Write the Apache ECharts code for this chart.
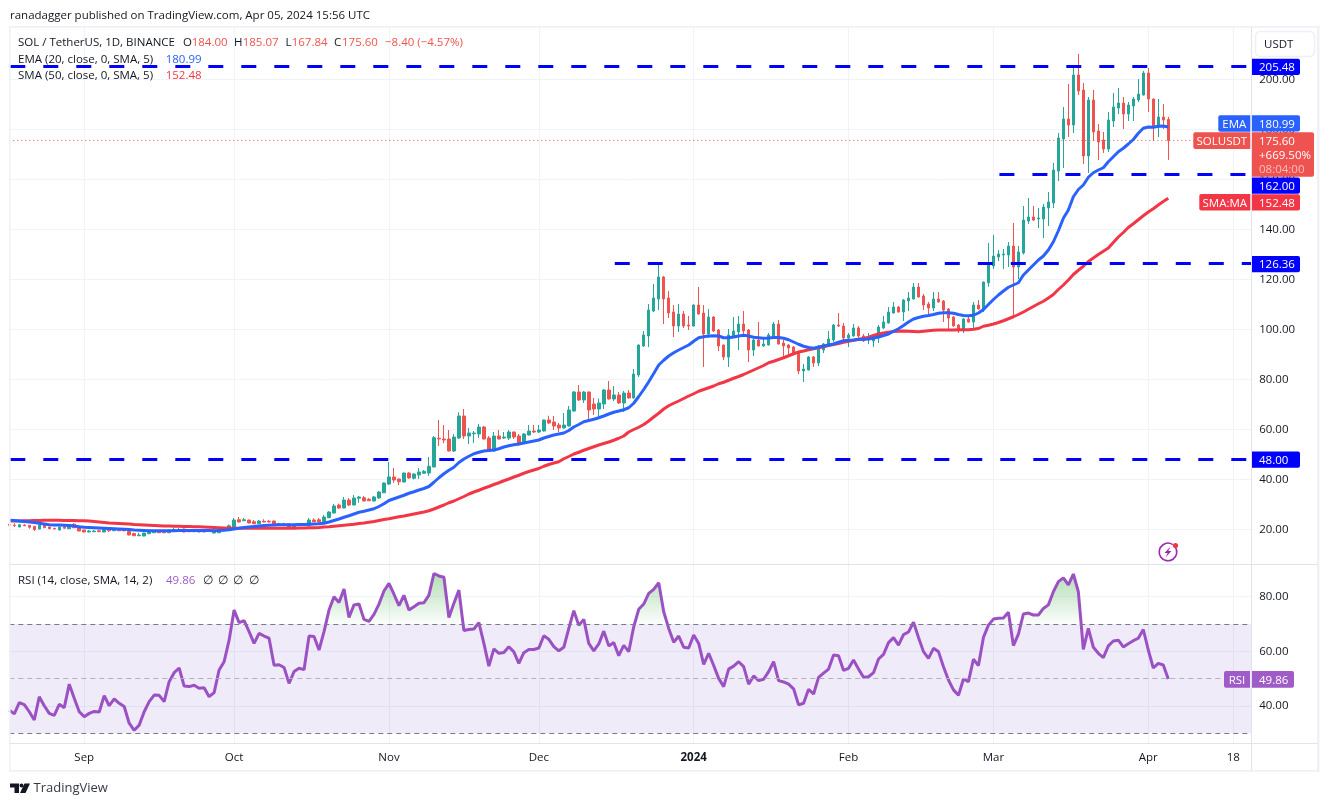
<!DOCTYPE html>
<html><head><meta charset="utf-8">
<style>html,body{margin:0;padding:0;background:#fff}#c{width:1329px;height:806px}</style>
<script src="https://cdn.jsdelivr.net/npm/echarts@6/dist/echarts.min.js"></script>
</head><body><div id="c"></div>
<script>
const FONT = '"Open Sans", "Noto Sans", sans-serif';
// first entry = 2023-08-17 (half hidden at the left edge), last = 2024-04-05
const opens = [22.1,
21.7,21.0,21.8,21.7,21.3,20.2,22.1,21,20.5,19.8,
21,20.3,22.1,20.9,19.8,19,19.1,19.5,19,20.5,
19.5,19.9,19.9,19.2,18.4,17.5,17.4,18.3,18.7,19.2,
19.2,18.7,19.5,19.7,20.2,19.6,19.1,19.5,19,19.3,
18.6,18.7,20,19.9,21,23.9,23.5,23.8,23.1,22.3,
23.3,23.3,23.4,21.7,22.2,22.2,21.1,21.7,22.1,21.5,
23.8,23.9,23,24.7,26.6,29.8,28.6,31.8,29.8,32.5,
32.7,32.1,31.4,32.6,34.7,38.2,41,40.2,39,42.6,
40.5,41.8,42.5,42.6,45,56.5,56.2,56.2,51.4,56.6,
65.4,57.4,58.3,58.2,61,56.6,51.4,57.4,56.6,56.6,
59,57.4,54.6,57.8,59.4,59,59.4,63.8,63,61.8,
60.6,61.4,67.4,75,71.8,75,70.2,68.2,70.2,75.8,
72.2,73.8,70.6,74.6,72.6,81.8,93.4,97.4,107.4,112.2,
121,112.6,107,101.4,106.2,101.8,101.4,109.8,106.6,98.2,
105,99.8,93.8,89,97.4,99,102.2,99.8,91.8,95.8,
93.4,93.8,97.4,102.2,94.6,93.8,93,90.6,83.4,83.8,
89,86.6,91.8,93.8,95.8,101.8,101.4,96.6,97.4,100.6,
97.4,95.8,95.4,96.6,100.6,102.6,106.6,109,107,111.4,
112.2,117,113.4,110.2,108.6,112.2,111.4,108.2,105,101.8,
99.4,104.2,103,109.8,107.8,118.7,125.4,129,129.8,129.8,
133.4,125,130.6,143.4,145,144.2,144.2,148.6,150.6,163.4,
176.2,184.2,181.8,201.8,195.8,169.4,191.8,179.4,175.8,172.2,
183.4,188.6,190.6,186.2,189.4,191.8,193.8,202.6,192.2,181,
185,184];
const closes = [21.7,
21.6,21.9,21.5,20.9,20,21.8,20.7,20.3,20.2,21,
20.5,21.8,20.7,19.4,19,19.4,19.4,19.1,20.5,19.5,
20,19.5,19.5,17.8,17.5,17.8,18.6,19.4,19.2,18.7,
18.7,19.8,20,19.9,19,19.1,19.5,19,19.5,19.5,
19.8,19.9,20.7,21.5,23.8,23,23.9,22.6,22.3,23.4,
23,23,21.8,22.3,21.7,20.9,21.8,22.2,21.7,23.8,
23.1,23,25,27,29.4,28.6,31.8,29.8,32.6,33,
31.4,31.5,33,35,38.6,41,39.8,39.1,42.6,40.6,
42.2,43,43.3,45.3,56.7,56.2,55.8,51.4,57,65.4,
57.4,58.6,58.6,61,56.2,51.4,57.4,56.2,57,59,
57,54.2,58.2,59.4,59,59.8,63.8,62.6,61.4,60.6,
61.8,67.8,75,71.8,75,67.8,68.2,70.6,75.8,72.2,
73.8,70.6,74.6,72.6,82.2,93.8,97.8,107.8,112.6,121,
112.2,106.6,101.4,106.2,101.4,101.4,109.8,106.2,98.2,105,
99.4,93.4,89,97.8,99.4,102.2,99.4,91.8,95.8,93.4,
94.2,97.8,102.2,94.2,93.4,92.6,90.6,83.4,84.2,89,
86.6,92.2,94.2,96.2,101.8,101.4,96.6,97.8,100.6,97.4,
95.4,96.6,97,101,103,107,109,107,111.8,112.6,
117,113,109.8,108.6,112.2,111,107.8,104.6,101.4,99.4,
104.2,103,109.8,108.2,119,126.2,129.4,130.2,130.2,133.4,
125,131,143.8,145,143.8,144.6,149,151,163.8,176.6,
184.2,181.8,201.8,195.4,169.4,191.8,179,175,172.2,183.8,
189,190.6,186.2,189.8,192.2,194.2,202.6,192.2,181,185,
183.8,175.6];
const highs = [22.3,
22.5,22.1,22.2,21.8,21.4,22,22.3,21.1,20.6,21.1,
21.4,22.2,22.5,21,19.9,19.8,19.7,20,20.9,20.9,
20.3,20.1,20.1,19.4,18.7,18.7,18.7,19.6,19.6,19.6,
19.3,20,20.6,20.7,20.3,19.8,19.7,19.8,19.7,19.7,
19.9,20.1,21,22,24.6,25,24.6,23.9,23.8,23.8,
24.1,23.8,23.6,22.7,22.7,22.3,22,22.4,22.5,24.6,
24.4,24.6,25.8,27.3,30.2,30.3,33,32.6,33.8,33.4,
33.4,32.6,33.4,35.4,38.8,47,44.6,40.4,42.8,42.9,
42.5,44.6,43.8,49,57.4,63.8,61.8,59.8,58.2,66.9,
68.2,60.6,59.4,62.2,61.4,57.4,59,59.8,59,59.8,
59.2,58.2,58.6,61.8,61.8,61.8,64,65.5,65.4,62.6,
66.6,69.4,75.4,77.8,75.4,75.2,72.6,72.4,76.2,79.4,
77.4,75,75.4,75.8,84.2,94,99.4,110.2,118.2,126.5,
121.4,115.4,109.8,110.2,107.4,105.4,110,117,109.8,108.2,
105.4,100.2,94,100.2,105,105.4,107.4,100.2,97.4,103,
97,98.6,103,103.8,95.8,94.2,93.4,91.4,86.2,89.4,
89.4,93.8,94.6,99.4,102.2,106.6,102.6,98.6,102.2,101.4,
98.2,98.6,97.8,101.8,105.4,109,111,109.4,112.2,115,
118.6,118.6,114.2,111,115,115,111.8,108.6,105.4,102.2,
104.6,105,111,111.8,119.2,134.6,137.8,131.8,132.2,135,
142.6,133.4,149.4,152.6,149.4,148.6,150.2,155,166.6,178.6,
189,198.2,205.4,210.2,198.6,193,195.8,182.2,179,187,
194.6,196.6,193,191,193,200.2,203.4,204.6,192.4,192.2,
190.2,185.07];
const lows = [21.6,
21,20.9,21.4,20.3,19.4,20.1,20.6,20.2,20.1,19.7,
20.4,20.2,20.6,19.3,18.9,18.9,19,19,18.9,19,
19.4,19.4,19.3,17.7,17.4,17.4,17.3,18.2,18.6,18.6,
18.6,18.6,19.4,19.6,18.9,19,19,18.9,18.9,19.2,
18.5,18.6,19.9,19.8,20.9,22.9,23.4,22.5,22.2,22.2,
22.9,22.9,21.7,21.6,21.6,20.8,21,21.6,21.6,21.4,
23,22.9,22.9,24.6,26.5,28.2,28.5,29.4,29.7,30.7,
31.3,31.4,31.3,32.3,34.6,37.8,38.7,37.8,38.9,40.3,
40,40.2,42.4,41.4,44.9,53.4,54.5,51.3,51,56.2,
56.2,54.2,54.6,56.6,56,51,51.3,56,56.2,55.8,
56.2,53.4,54.2,57.6,58.6,58.6,59.2,62.2,59.8,59,
60.4,61.2,67.2,71.4,70.6,64.2,65.8,64.2,68.2,72,
71.4,70.2,67,72.4,72.4,81,93,93,107,107.8,
102.2,104.6,97,99,100.6,99.8,101.2,106,85,96.6,
99,91.4,87.8,85,97.2,91.8,97.4,87,89.4,93.2,
93,93.6,97.2,94,88.2,89.4,90.4,82.2,79,83.6,
85,85.4,90.6,93,95,101,95.8,93,97.2,96.6,
95,94.2,93,94.6,100.2,102.4,106.4,106.8,103.4,107.4,
112,112.8,107.8,105,107.4,110.8,103,100.2,101.2,98.6,
98.6,102.8,100.2,108,107,117.1,124.2,127.4,124.2,125,
105.4,120.2,130,142.2,143.4,140.6,136.6,141.4,148.6,159.4,
164.6,177,178.6,193.8,166.2,162.6,175.4,167.8,170.6,171,
181,186.2,180.2,183.4,183.4,191,193.6,187,175.4,177,
180.2,167.84];
const ema20 = [23.7,
23.6,23.4,23.2,23.0,22.8,22.5,22.2,21.9,21.8,21.8,
21.7,21.6,21.4,21.1,20.9,20.8,20.7,20.6,20.5,20.4,
20.3,20.2,20.1,20,19.8,19.7,19.6,19.5,19.5,19.5,
19.5,19.5,19.5,19.6,19.6,19.6,19.6,19.6,19.6,19.6,
19.5,19.6,19.7,19.9,20.2,20.5,20.8,21,21.2,21.4,
21.6,21.7,21.8,21.9,21.9,21.9,21.9,22,22,22.1,
22.2,22.3,22.5,23,23.6,24.2,24.9,25.5,26.2,26.9,
27.3,27.8,28.3,29.2,30.3,31.6,32.3,33,33.7,34.5,
35.1,35.8,36.4,37.2,38.9,40.7,42.3,43.7,44.9,46.8,
48.2,49.3,50.3,50.9,51.4,51.6,51.8,52.3,53,53.5,
53.9,54.2,54.6,55,55.4,55.8,56.6,57.2,57.8,58.2,
58.6,59.6,61,62,63.1,63.6,64.1,64.7,65.4,66.2,
66.9,67.4,67.9,68.7,70.5,73.2,76,79.1,82.4,85.8,
87.7,89.4,90.7,91.8,92.8,93.8,95.3,96.7,97.1,97.4,
97.5,97.4,96.7,96.7,97,97.4,97.7,97.4,96.9,96.7,
96.5,96.6,96.8,96.8,96.5,95.9,95,94.1,93.3,92.8,
92.5,93,93.4,93.8,94.2,94.9,95.5,95.7,95.8,96,
96.1,96.2,96.6,97,97.6,98.2,99.3,100.3,101.6,103,
104.2,104.8,105.3,105.6,106,106.5,106.7,106.7,106.5,106,
105.6,105.5,105.7,106.6,108,110,112,113.8,115.4,116.9,
117.8,118.7,121.8,123.8,125.8,127.8,129.4,131.8,135.1,139.5,
144.5,147.8,153.1,156,157.8,160.9,162.7,163.8,164.7,167.1,
169.1,171.1,172.5,174.2,176,178.5,180.5,181,180.9,181.3,
181.4,180.99];
const sma50 = [23.4,
23.4,23.4,23.5,23.5,23.6,23.6,23.7,23.7,23.7,23.7,
23.6,23.6,23.6,23.5,23.5,23.4,23.2,23,22.8,22.6,
22.5,22.4,22.3,22.2,22,21.9,21.8,21.7,21.6,21.5,
21.4,21.4,21.3,21.3,21.2,21.2,21.1,21.1,21,20.9,
20.8,20.7,20.6,20.5,20.5,20.5,20.5,20.5,20.5,20.5,
20.5,20.5,20.5,20.5,20.5,20.5,20.5,20.6,20.6,20.7,
20.7,20.8,21,21.1,21.3,21.5,21.7,21.9,22.1,22.4,
22.6,22.9,23.2,23.6,24,24.3,24.7,25.1,25.4,25.8,
26.2,26.6,27,27.5,28.2,29,29.8,30.7,31.4,32.3,
33.2,34.2,35,35.7,36.5,37.2,38,38.7,39.5,40.2,
41,41.7,42.5,43.2,43.8,44.4,45.3,46,46.6,47.1,
48.3,49.2,50.2,50.9,51.7,52.4,53.1,53.8,54.4,55,
55.7,56.5,57.4,59,60,60.9,62,63.4,65,66.5,
68.2,69.5,70.5,71.4,72.4,73.4,74.3,75.3,76,76.7,
77.4,78.3,78.9,79.7,80.5,81.2,82,82.9,83.8,84.7,
85.6,86.7,87.3,88,88.7,89.5,90.3,91,91.4,91.9,
92.3,92.7,93.1,93.6,94,94.4,94.9,95.3,95.7,96.1,
96.4,96.9,97.6,98.2,98.6,98.9,99.2,99.3,99.4,99.3,
99.2,99.1,99.3,99.5,99.7,99.8,99.8,99.8,99.8,99.9,
99.9,99.9,100.1,100.4,101.3,101.7,102.2,102.8,103.5,104.3,
105.1,106,107,108.1,109.2,110.3,111.3,112.6,114,116,
117.8,119.8,122,123.7,125.3,127.2,128.6,130,131.3,132.6,
134.8,137,138.8,140.8,142.3,143.9,145.5,147,148.3,149.8,
151.2,152.48];
const rsi14 = [38.5,
37.1,41.2,40.5,37.9,34.9,43.4,40.1,37.3,36.6,40.6,
39.4,48,42.8,37.9,36.1,37.3,38,37.8,43.8,40.1,
42.6,41,39.8,33.7,31.1,33,37.9,41.6,44,43.9,
41.6,48.9,52.2,53.9,47.3,47.1,47.6,46.5,46.7,43.4,
44.9,53.2,56.2,64.1,75.1,70.5,71.2,67.2,62.9,66.6,
65.6,64.8,54.9,55.1,54.1,48.3,52.6,53.8,53.3,65.6,
65.4,60.5,67.2,75.1,80,77.9,82.8,72.4,77,77.3,
71.7,71,73.5,77.3,82.1,84.9,80.9,76.7,80.5,75.1,
76.3,77.6,77.8,80.6,88.5,87.6,87.1,72.4,77.6,82.4,
67.6,68,68.2,70.5,62.9,54.6,60.9,59.3,59.6,61.7,
59.8,55.6,59.5,60.7,60.7,61.2,65.7,64.4,61.7,60.2,
61.5,68.4,74.9,69.5,71.7,62.9,60.2,62.7,67.4,62,
63.2,58.4,62.2,59.9,69,75.4,77.3,81.2,82.7,85.1,
74.5,68.4,63.3,65.6,61.5,61.2,66,62.9,55.2,59.3,
54.8,50.1,47.1,53.5,54.6,56.2,54.4,48,51,49.3,
49.8,52.6,56.2,49.3,48.8,48,46.3,40.4,41,46.1,
44.4,50.5,52,53.5,58.7,58.4,53,53.8,56.8,53.5,
50.5,50.7,52.2,57.2,58.9,63.2,65,62.3,66.1,67.1,
70.7,65.1,59.9,57.4,61.1,59.9,54.4,49.5,45.9,43.9,
49.9,48.9,57.1,54.8,65.1,69.6,71.8,72.1,72.2,74.3,
62.1,66.3,73.7,74,73.3,73.3,75.7,77,81.8,85.5,
86.9,84.3,88.3,81.8,60.7,68.4,61.5,59.3,57.7,62,
63.8,64.1,61.6,62.8,63.9,64.8,68,60.5,53.9,55.6,
55,49.86];
const priceTicks = [20,40,60,80,100,120,140,160,180,200];
const rsiTicks = [40,60,80];
const timeTickDates = ['2023-09-01','2023-10-01','2023-11-01','2023-12-01','2024-01-01','2024-02-01','2024-03-01','2024-04-01','2024-04-18'];
const timeTickLabels = ['Sep','Oct','Nov','Dec','2024','Feb','Mar','Apr','18'];
const levelValues = [205.48,162.00,126.36,48.00];
const levelStarts = ['2023-08-17','2024-03-02','2023-12-16','2023-08-17'];

const dates = [];
for (let d = Date.UTC(2023,7,17); d <= Date.UTC(2024,3,22); d += 864e5) dates.push(new Date(d).toISOString().slice(0,10));
const last = dates[dates.length-1];
const isTick = (i, v) => timeTickDates.includes(v);
const GRID = '#f0f3fa', TXT = '#131722', FS = 11.5;
const candles = opens.map((o,i)=>[o,closes[i],lows[i],highs[i]]);

const xBase = {type:'category',data:dates,boundaryGap:false,axisLine:{show:false},axisTick:{show:false},
  splitLine:{show:true,interval:isTick,lineStyle:{color:GRID,width:1}},axisLabel:{show:false}};
const option = {
  animation:false, backgroundColor:'#fff',
  grid:[{left:9.3,right:75.8,top:27,height:537},{left:9.3,right:75.8,top:565,height:178}],
  xAxis:[
    Object.assign({},xBase,{gridIndex:0}),
    Object.assign({},xBase,{gridIndex:1,axisLabel:{show:true,interval:isTick,margin:9,fontFamily:FONT,fontSize:FS,color:TXT,
      formatter:v=>{const t=timeTickLabels[timeTickDates.indexOf(v)]; return t==='2024'?'{b|'+t+'}':t;},
      rich:{b:{fontWeight:'bold',fontFamily:FONT,fontSize:FS,color:TXT}}}})
  ],
  yAxis:[
    {gridIndex:0,type:'value',position:'right',min:6.2,max:221,axisLine:{show:false},
      axisTick:{show:false,customValues:priceTicks},splitLine:{show:true,lineStyle:{color:GRID,width:1}},
      axisLabel:{customValues:priceTicks,margin:6,padding:[2,0,0,0],fontFamily:FONT,fontSize:FS,color:TXT,formatter:v=>v.toFixed(2)}},
    {gridIndex:1,type:'value',position:'right',min:26.46,max:91.6,axisLine:{show:false},
      axisTick:{show:false,customValues:rsiTicks},splitLine:{show:true,lineStyle:{color:GRID,width:1}},
      axisLabel:{customValues:rsiTicks,margin:6,padding:[2,0,0,0],fontFamily:FONT,fontSize:FS,color:TXT,formatter:v=>v.toFixed(2)}}
  ],
  series:[
    {type:'candlestick',name:'SOLUSDT',xAxisIndex:0,yAxisIndex:0,data:candles,barWidth:3,
      itemStyle:{color:'#26a69a',color0:'#ef5350',borderColor:'#26a69a',borderColor0:'#ef5350',borderWidth:1},z:3,
      markLine:{silent:true,symbol:'none',label:{show:false},animation:false,
        data:[[{coord:[dates[0],closes[closes.length-1]],lineStyle:{color:'#ef5350',width:1,type:[1,3]}},{coord:[last,closes[closes.length-1]]}]]}},
    {type:'line',name:'SMA 50',xAxisIndex:0,yAxisIndex:0,data:sma50,showSymbol:false,lineStyle:{color:'#f23645',width:3},z:4},
    {type:'line',name:'EMA 20',xAxisIndex:0,yAxisIndex:0,data:ema20,showSymbol:false,lineStyle:{color:'#2962ff',width:3},z:5},
    {type:'line',name:'Levels',xAxisIndex:0,yAxisIndex:0,data:[],z:6,
      markLine:{silent:true,symbol:'none',label:{show:false},animation:false,lineStyle:{color:'#0000ff',width:3,type:[15,18],dashOffset:-1},
        data:levelValues.map((v,i)=>[{coord:[levelStarts[i],v]},{coord:[last,v]}])}},
    {type:'line',name:'RSI over 70',xAxisIndex:1,yAxisIndex:1,data:rsi14.map(v=>Math.max(v,70)),showSymbol:false,lineStyle:{width:0},z:2,
      areaStyle:{origin:70,color:{type:'linear',x:0,y:0,x2:0,y2:1,colorStops:[{offset:0,color:'rgba(76,175,80,0.6)'},{offset:1,color:'rgba(76,175,80,0.03)'}]}}},
    {type:'line',name:'RSI',xAxisIndex:1,yAxisIndex:1,data:rsi14,showSymbol:false,lineStyle:{color:'#9b51c4',width:3},z:4,
      markArea:{silent:true,itemStyle:{color:'rgba(126,87,194,0.12)'},data:[[{yAxis:70,x:9.3},{yAxis:30,x:1253.2}]]},
      markLine:{silent:true,symbol:'none',label:{show:false},animation:false,
        data:[70,50,30].map(v=>({yAxis:v,lineStyle:{color:v===50?'#b3b1bd':'#787b86',width:1,type:[5,4]}}))}}
  ]
};
const el = document.getElementById('c');
const chart = echarts.init(el,null,{renderer:'canvas',width:1329,height:806});
chart.setOption(option);

const Y = (v,g)=>chart.convertToPixel({yAxisIndex:g},v);
const T = (x,y,text,opt={})=>({type:'text',z:50,style:Object.assign({x,y:y+1,text,fontFamily:FONT,fontSize:FS,fill:TXT,verticalAlign:'middle',align:'left'},opt)});
const R = (x,y,w,h,fill,r=0,extra={})=>({type:'rect',z:40,shape:{x,y,width:w,height:h,r},style:Object.assign({fill},extra)});
const L = (x1,y1,x2,y2,c,w=1)=>({type:'line',z:45,shape:{x1,y1,x2,y2},style:{stroke:c,lineWidth:w}});
const RED='#ef5350',BLUE='#0000ff',EMAC='#2962ff',SMAC='#f23645',PUR='#a05cc6',FR='#eff1f7',SEP='#e0e3eb';
const badge = (v,off,fill,w=49)=>{const cy=Y(v,0)+off; return [R(1251,cy-8,w,16.2,fill,[0,2,2,0]),T(1259,cy,v.toFixed(2),{fill:'#fff'})];};
const g = [
  R(1252,27,2.5,743,'#fff'),
  R(9,26,1.6,746,FR), R(1317,26,2.5,746,FR), R(9,26,1310.5,1.8,FR), R(9,770,1310.5,1.8,FR),
  L(10,564.5,1318,564.5,SEP), L(10,743.5,1318,743.5,SEP), L(1251.5,27,1251.5,770,SEP),
  {type:'rect',z:40,shape:{x:1255.5,y:31.5,width:59,height:25,r:5},style:{fill:'#fff',stroke:'#edf0f4',lineWidth:1.5}},
  T(1264,44,'USDT'),
  T(10,14.5,'ranadagger published on TradingView.com, Apr 05, 2024 15:56 UTC'),
  T(18,41.5,'SOL / TetherUS, 1D, BINANCE'),
  T(183,41.5,'O'),T(191.7,41.5,'184.00',{fill:RED}),
  T(234,41.5,'H'),T(242.7,41.5,'185.07',{fill:RED}),
  T(285.5,41.5,'L'),T(291.7,41.5,'167.84',{fill:RED}),
  T(334,41.5,'C'),T(342,41.5,'175.60',{fill:RED}),
  T(385,41.5,'−8.40 (−4.57%)',{fill:RED}),
  T(18,58.5,'EMA (20, close, 0, SMA, 5)'),T(165.7,58.5,'180.99',{fill:EMAC}),
  T(18,75,'SMA (50, close, 0, SMA, 5)'),T(165.7,75,'152.48',{fill:SMAC}),
  T(18,579.5,'RSI (14, close, SMA, 14, 2)'),T(166,579.5,'49.86',{fill:PUR}),
  T(203,579.5,'∅'),T(218,579.5,'∅'),T(233,579.5,'∅'),T(249,579.5,'∅'),
  ...badge(205.48,1,BLUE), ...badge(162,11,BLUE), ...badge(126.36,0.4,BLUE), ...badge(48,0,BLUE),
  ...badge(152.48,4,SMAC),
  ...badge(180.99,-3.7,EMAC),
  R(1218.3,Y(180.99,0)-11.7,32,16.4,EMAC,[2,0,0,2]),T(1234.3,Y(180.99,0)-3.7,'EMA',{fill:'#fff',align:'center'}),
  R(1199.3,Y(152.48,0)-4.3,51,16.4,SMAC,[2,0,0,2]),T(1224.8,Y(152.48,0)+4,'SMA:MA',{fill:'#fff',align:'center'}),
  R(1193.3,Y(175.6,0)-8.2,57,16.6,RED,[2,0,0,2]),T(1221.8,Y(175.6,0)+0.2,'SOLUSDT',{fill:'#fff',align:'center'}),
  R(1251,Y(175.6,0)-8.2,63,44.4,RED,[0,2,2,0]),
  T(1259,Y(175.6,0)+0.2,'175.60',{fill:'#fff'}),
  T(1259,Y(175.6,0)+13.8,'+669.50%',{fill:'#fff'}),
  T(1259,Y(175.6,0)+27.8,'08:04:00',{fill:'rgba(255,255,255,0.62)'}),
  R(1224,Y(49.86,1)-8,26,16.6,PUR,[2,0,0,2]),T(1237,Y(49.86,1)+0.3,'RSI',{fill:'#fff',align:'center'}),
  R(1251,Y(49.86,1)-8,43,16.6,PUR,[0,2,2,0]),T(1259,Y(49.86,1)+0.3,'49.86',{fill:'#fff'}),
  // alert icon
  {type:'arc',z:45,shape:{cx:1168,cy:552,r:8.8,startAngle:-0.6,endAngle:-1.0,clockwise:true},style:{stroke:'#9c27b0',lineWidth:1.6,fill:null}},
  {type:'polygon',z:45,shape:{points:[[1170.5,546.5],[1164.5,553],[1167.7,553],[1165.5,557.5],[1171.5,551],[1168.3,551]]},style:{fill:'#9c27b0'}},
  {type:'circle',z:46,shape:{cx:1175.5,cy:545.5,r:2.6},style:{fill:'#f23645'}},
  // TradingView wordmark
  {type:'polygon',z:45,shape:{points:[[10,783.5],[19,783.5],[19,793],[14.5,793],[14.5,787.5],[10,787.5]]},style:{fill:'#131722'}},
  {type:'circle',z:45,shape:{cx:21.5,cy:785.5,r:2},style:{fill:'#131722'}},
  {type:'polygon',z:45,shape:{points:[[24.5,783.5],[30,783.5],[25.5,793],[20,793]]},style:{fill:'#131722'}},
  T(33.5,787.5,'TradingView',{fontSize:13,fill:'#363a45'})
];
chart.setOption({graphic:{elements:g}});
</script></body></html>
